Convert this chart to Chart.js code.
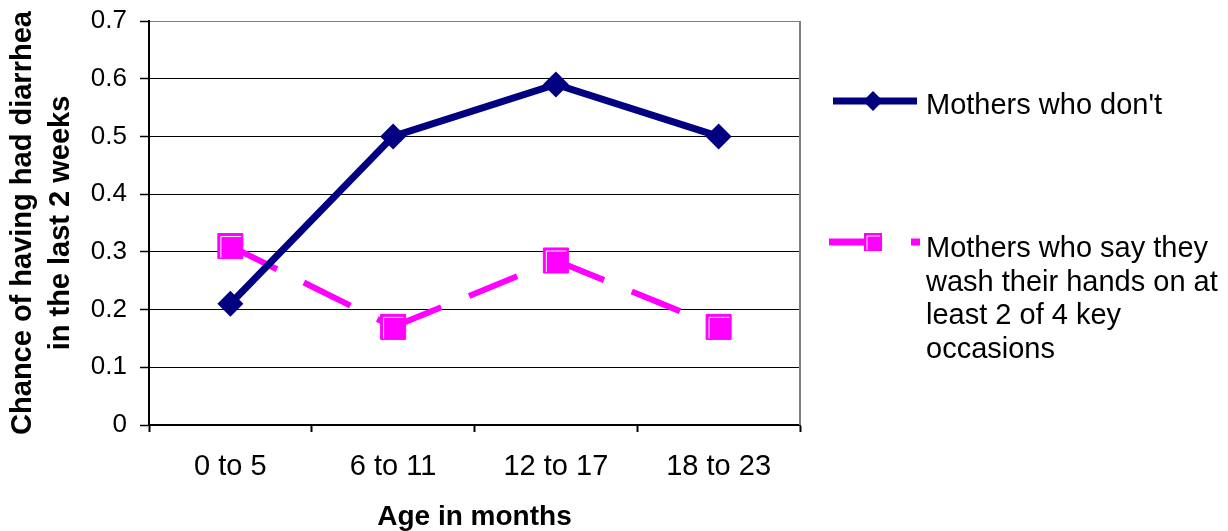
<!DOCTYPE html>
<html>
<head>
<meta charset="utf-8">
<script src="https://cdn.jsdelivr.net/npm/chart.js@4.4.1/dist/chart.umd.min.js"></script>
<style>
  html, body { margin: 0; padding: 0; background: #ffffff; }
  canvas { display: block; }
</style>
</head>
<body>
<canvas id="chart" width="1228" height="531"></canvas>
<script>
// Age bands on the horizontal axis
const ageGroups = ['0 to 5', '6 to 11', '12 to 17', '18 to 23'];

// Share of children who had diarrhea in the last two weeks
const noWashValues = [0.21, 0.5, 0.59, 0.5];
const washValues = [0.31, 0.17, 0.285, 0.17];

const seriesNames = [
  "Mothers who don't",
  'Mothers who say they wash their hands on at least 2 of 4 key occasions'
];

const yTickLabels = ['0', '0.1', '0.2', '0.3', '0.4', '0.5', '0.6', '0.7'];
const yAxisTitle = ['Chance of having had diarrhea', 'in the last 2 weeks'];
const xAxisTitle = 'Age in months';

const FONT = '"Liberation Sans", Arial, sans-serif';
const NAVY = '#000080';
const PINK = '#FF00FF';
const FRAME_GREY = '#808080';

// Thin white highlight inside square markers
function squareHighlight(ctx, x, y, half) {
  ctx.save();
  ctx.strokeStyle = '#ffffff';
  ctx.lineWidth = 1;
  ctx.beginPath();
  ctx.moveTo(x - half + 3, y + half - 1);
  ctx.lineTo(x - half + 3, y - half + 3);
  ctx.lineTo(x + half - 2, y - half + 3);
  ctx.stroke();
  ctx.restore();
}

const markerDetails = {
  id: 'markerDetails',
  afterDatasetsDraw(chart) {
    const ctx = chart.ctx;
    chart.data.datasets.forEach((ds, i) => {
      if (ds.pointStyle !== 'rect') return;
      const half = ds.pointRadius * Math.SQRT1_2;
      chart.getDatasetMeta(i).data.forEach(pt => squareHighlight(ctx, pt.x, pt.y, half));
    });
  }
};

// Grey frame on the right side of the plot area
const plotFrame = {
  id: 'plotFrame',
  beforeDatasetsDraw(chart) {
    const { ctx, chartArea } = chart;
    ctx.save();
    ctx.strokeStyle = FRAME_GREY;
    ctx.lineWidth = 2;
    ctx.beginPath();
    ctx.moveTo(chartArea.right, chartArea.top);
    ctx.lineTo(chartArea.right, chartArea.bottom);
    ctx.stroke();
    ctx.restore();
  }
};

function wrapText(ctx, text, maxWidth) {
  const words = text.split(' ');
  const lines = [];
  let line = '';
  words.forEach(w => {
    const test = line ? line + ' ' + w : w;
    if (ctx.measureText(test).width > maxWidth && line) {
      lines.push(line);
      line = w;
    } else {
      line = test;
    }
  });
  if (line) lines.push(line);
  return lines;
}

// Legend to the right of the plot, one entry per series
const sideLegend = {
  id: 'sideLegend',
  afterDraw(chart) {
    const ctx = chart.ctx;
    const entries = [
      { lineFrom: 833, lineTo: 917, markerY: 101, baseline: 114, markerSize: 10 },
      { lineFrom: 829, lineTo: 920, markerY: 242, baseline: 257, markerSize: 9 }
    ];
    const textX = 926;
    const lineGap = 33.5;
    ctx.save();
    chart.data.datasets.forEach((ds, i) => {
      const e = entries[i];
      // line sample
      ctx.save();
      ctx.strokeStyle = ds.borderColor;
      ctx.lineWidth = 7;
      ctx.lineCap = 'butt';
      ctx.setLineDash(ds.borderDash || []);
      ctx.beginPath();
      ctx.moveTo(e.lineFrom, e.markerY);
      ctx.lineTo(e.lineTo, e.markerY);
      ctx.stroke();
      ctx.restore();
      // marker
      const mx = 873;
      ctx.fillStyle = ds.pointBackgroundColor;
      ctx.beginPath();
      if (ds.pointStyle === 'rectRot') {
        const r = e.markerSize;
        ctx.moveTo(mx, e.markerY - r);
        ctx.lineTo(mx + r, e.markerY);
        ctx.lineTo(mx, e.markerY + r);
        ctx.lineTo(mx - r, e.markerY);
        ctx.closePath();
        ctx.fill();
      } else {
        const h = e.markerSize;
        ctx.rect(mx - h, e.markerY - h, 2 * h, 2 * h);
        ctx.fill();
        squareHighlight(ctx, mx, e.markerY, h);
      }
      // label
      ctx.fillStyle = '#000000';
      ctx.font = '29px ' + FONT;
      ctx.textAlign = 'left';
      ctx.textBaseline = 'alphabetic';
      const lines = wrapText(ctx, ds.label, 300);
      lines.forEach((ln, k) => ctx.fillText(ln, textX, e.baseline + k * lineGap));
    });
    ctx.restore();
  }
};

const chart = new Chart(document.getElementById('chart'), {
  type: 'line',
  data: {
    labels: ageGroups,
    datasets: [
      {
        label: seriesNames[0],
        data: noWashValues,
        borderColor: NAVY,
        backgroundColor: NAVY,
        borderWidth: 7,
        pointStyle: 'rectRot',
        pointRadius: 13,
        pointHoverRadius: 13,
        pointBackgroundColor: NAVY,
        pointBorderColor: NAVY,
        pointBorderWidth: 0,
        tension: 0,
        fill: false
      },
      {
        label: seriesNames[1],
        data: washValues,
        borderColor: PINK,
        backgroundColor: PINK,
        borderWidth: 6,
        borderDash: [52, 30],
        borderCapStyle: 'butt',
        pointStyle: 'rect',
        pointRadius: 17.7,
        pointHoverRadius: 17.7,
        pointBackgroundColor: PINK,
        pointBorderColor: PINK,
        pointBorderWidth: 1,
        tension: 0,
        fill: false,
        // restart the dash pattern on every segment between points
        segment: {
          borderDashOffset: c => (c.p0DataIndex % 2 ? 0.001 : 0)
        }
      }
    ]
  },
  options: {
    responsive: false,
    animation: false,
    devicePixelRatio: 1,
    layout: { padding: { left: 0, top: 21, right: 428, bottom: 0 } },
    plugins: {
      legend: { display: false },
      tooltip: { enabled: false }
    },
    scales: {
      x: {
        type: 'category',
        offset: true,
        afterFit: s => { s.height = 106; },
        grid: {
          offset: true,
          drawOnChartArea: false,
          drawTicks: true,
          tickLength: 7,
          tickColor: '#000000',
          tickWidth: 2
        },
        border: { display: true, color: '#000000', width: 2 },
        ticks: {
          color: '#000000',
          font: { family: FONT, size: 29 },
          padding: 18,
          maxRotation: 0,
          autoSkip: false
        },
        title: {
          display: true,
          text: xAxisTitle,
          color: '#000000',
          font: { family: FONT, size: 28, weight: 'bold', lineHeight: 1.0 },
          padding: { top: 0, bottom: 0 }
        }
      },
      y: {
        type: 'linear',
        min: 0,
        max: 0.7,
        afterFit: s => {
          s.width = 149;
          s.paddingTop = 12;
          s.paddingBottom = 12;
        },
        afterBuildTicks: s => {
          s.ticks = yTickLabels.map(t => ({ value: parseFloat(t) }));
        },
        grid: {
          color: c => (Math.abs(c.tick.value - 0.7) < 1e-9 ? FRAME_GREY : '#000000'),
          lineWidth: 1,
          drawTicks: true,
          tickLength: 9,
          tickColor: '#000000',
          tickWidth: 1.5
        },
        border: { display: true, color: '#000000', width: 2 },
        ticks: {
          color: '#000000',
          font: { family: FONT, size: 26 },
          padding: 13,
          callback: (v, i) => yTickLabels[i]
        },
        title: {
          display: true,
          text: yAxisTitle,
          color: '#000000',
          font: { family: FONT, size: 29, weight: 'bold', lineHeight: 1.3 },
          padding: { top: 4, bottom: 0 }
        }
      }
    }
  },
  plugins: [plotFrame, markerDetails, sideLegend]
});
</script>
</body>
</html>
